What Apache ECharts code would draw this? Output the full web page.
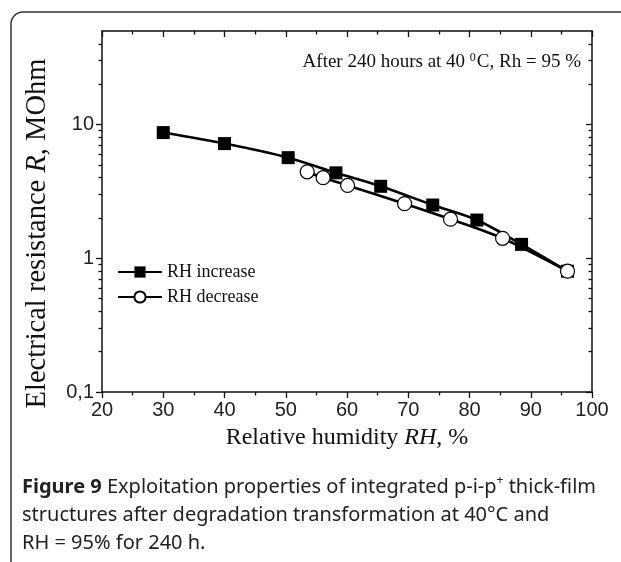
<!DOCTYPE html>
<html>
<head>
<meta charset="utf-8">
<script src="https://cdn.jsdelivr.net/npm/echarts@6/dist/echarts.min.js"></script>
<style>
html, body { margin: 0; background: #fff; }
#main { width: 621px; height: 562px; }
</style>
</head>
<body>
<div id="main"></div>
<script>
// values
const rhIncrease = [30, 40, 50.4, 58.2, 65.5, 74, 81.2, 88.5, 96];
const rIncrease = [8.7, 7.2, 5.65, 4.35, 3.45, 2.5, 1.93, 1.27, 0.8];
const rhDecrease = [96, 85.4, 76.9, 69.4, 60.1, 56.1, 53.5];
const rDecrease = [0.8, 1.41, 1.96, 2.56, 3.5, 4.0, 4.43];

const yMajorTicks = [0.1, 1, 10];
const yMinorTicks = [0.2, 0.3, 0.4, 0.5, 0.6, 0.7, 0.8, 0.9,
    2, 3, 4, 5, 6, 7, 8, 9, 20, 30, 40];

const serif = '"Liberation Serif", "Times New Roman", serif';
const sans = '"Liberation Sans", Arial, sans-serif';
const captionFont = '"Noto Sans", sans-serif';

const chart = echarts.init(document.getElementById('main'));

function pairs(xs, ys) {
    return xs.map((x, i) => [x, ys[i]]);
}

function xAxisBase(pos) {
    return {
        type: 'value',
        position: pos,
        min: 20,
        max: 100,
        interval: 10,
        splitLine: { show: false },
        axisLine: { show: true, onZero: false, lineStyle: { color: '#111', width: 1.5 } },
        axisTick: { show: true, inside: pos === 'top', length: 6, lineStyle: { color: '#111', width: 1.3 } },
        minorTick: { show: true, splitNumber: 2, length: 3.5, lineStyle: { color: '#111', width: 1.3 } },
        axisLabel: { show: false }
    };
}

function yAxisBase(pos, ticks, len, withLine) {
    return {
        type: 'log',
        position: pos,
        min: 0.1,
        max: 50,
        splitLine: { show: false },
        axisLine: { show: withLine, lineStyle: { color: '#111', width: 1.5 } },
        axisTick: {
            show: true,
            inside: pos === 'right',
            length: len,
            customValues: ticks,
            lineStyle: { color: '#111', width: 1.3 }
        },
        minorTick: { show: false },
        axisLabel: { show: false }
    };
}

const xBottom = xAxisBase('bottom');
xBottom.axisLabel = { show: true, fontFamily: sans, fontSize: 20, color: '#222', margin: 8 };
xBottom.name = 'Relative humidity {i|RH}, %';
xBottom.nameLocation = 'middle';
xBottom.nameGap = 34;
xBottom.nameTextStyle = {
    fontFamily: serif, fontSize: 24, color: '#111',
    rich: { i: { fontFamily: serif, fontSize: 24, fontStyle: 'italic', color: '#111' } }
};

const yLeft = yAxisBase('left', yMajorTicks, 6, true);
yLeft.axisLabel = {
    show: true,
    customValues: yMajorTicks,
    fontFamily: sans,
    fontSize: 20,
    color: '#222',
    margin: 8,
    formatter: v => String(v).replace('.', ',')
};
yLeft.name = 'Electrical resistance {i|R}, MOhm';
yLeft.nameLocation = 'middle';
yLeft.nameGap = 50;
yLeft.nameTextStyle = {
    fontFamily: serif, fontSize: 28.5, color: '#111',
    padding: [0, 44, 0, 0],
    rich: { i: { fontFamily: serif, fontSize: 28.5, fontStyle: 'italic', color: '#111' } }
};

chart.setOption({
    animation: false,
    backgroundColor: '#fff',
    grid: { left: 102, right: 29, top: 31, bottom: 170, containLabel: false },
    legend: {
        orient: 'vertical',
        left: 112,
        top: 258,
        itemWidth: 44,
        itemHeight: 14,
        itemGap: 7,
        textStyle: { fontFamily: serif, fontSize: 18, color: '#111' },
        data: ['RH increase', 'RH decrease']
    },
    xAxis: [xBottom, xAxisBase('top')],
    yAxis: [
        yLeft,
        yAxisBase('left', yMinorTicks, 3.5, false),
        yAxisBase('right', yMajorTicks, 6, true),
        yAxisBase('right', yMinorTicks, 3.5, false)
    ],
    graphic: [
        {
            type: 'rect',
            shape: { x: 11, y: 12, width: 700, height: 700, r: 12 },
            style: { fill: 'none', stroke: '#333', lineWidth: 1.5 },
            silent: true
        },
        {
            type: 'text',
            right: 40,
            top: 52,
            style: {
                text: 'After 240 hours at 40 {sup|0}C, Rh = 95 %',
                font: '19px ' + serif,
                fill: '#111',
                rich: { sup: { fontSize: 12, fontFamily: serif, verticalAlign: 'top', padding: [0, 1, 9, 0] } }
            }
        },
        {
            type: 'text',
            left: 22,
            top: 473,
            style: {
                text: '{b|Figure 9} Exploitation properties of integrated p-i-p{sup|+} thick-film\nstructures after degradation transformation at 40°C and\nRH = 95% for 240 h.',
                font: '20px ' + captionFont,
                fill: '#222',
                lineHeight: 28,
                rich: {
                    b: { fontWeight: 'bold', fontSize: 20, fontFamily: captionFont, fill: '#222', lineHeight: 28 },
                    sup: { fontSize: 12, fontFamily: captionFont, padding: [0, 0, 12, 0], lineHeight: 28 }
                }
            }
        }
    ],
    series: [
        {
            name: 'RH increase',
            type: 'line',
            xAxisIndex: 0,
            yAxisIndex: 0,
            smooth: 0.3,
            symbol: 'rect',
            symbolSize: 13,
            itemStyle: { color: '#000' },
            lineStyle: { color: '#000', width: 2.6 },
            data: pairs(rhIncrease, rIncrease)
        },
        {
            name: 'RH decrease',
            type: 'line',
            xAxisIndex: 0,
            yAxisIndex: 0,
            smooth: 0.3,
            symbol: 'circle',
            symbolSize: 14,
            itemStyle: { color: '#fff', borderColor: '#000', borderWidth: 1.2 },
            lineStyle: { color: '#000', width: 2.6 },
            data: pairs(rhDecrease, rDecrease)
        }
    ]
});
</script>
</body>
</html>
